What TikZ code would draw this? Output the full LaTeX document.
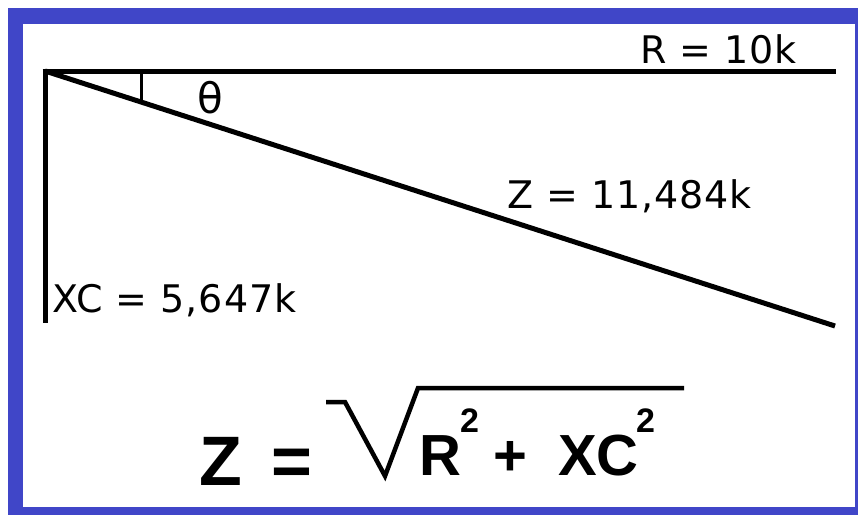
\documentclass[tikz,border=0pt]{standalone}
\usepackage{fontspec}
\newfontfamily\vfont[LetterSpace=2.5]{DejaVu Sans}
\newfontfamily\tfont{DejaVu Sans}
\newfontfamily\afont{Liberation Sans}
\definecolor{frameblue}{RGB}{64,70,200}
\begin{document}
\begin{tikzpicture}[x=1pt,y=-1pt,
  lbl/.style={inner sep=0pt,anchor=base west,font=\vfont\fontsize{38}{40}\selectfont},
  big/.style={inner sep=0pt,anchor=base west,font=\afont\bfseries\fontsize{58}{60}\selectfont},
  sup/.style={inner sep=0pt,anchor=base west,font=\afont\bfseries\fontsize{34}{36}\selectfont},
  side/.style={line width=5pt}]
\useasboundingbox (0,0) rectangle (858,515);
\fill[white] (0,0) rectangle (858,515);
\fill[frameblue] (8,8) rectangle (858,515);
\fill[white] (23,24) rectangle (855,507);
% corners of the triangle
\coordinate (A) at (45,71);
\coordinate (Rend) at (836,71);
\coordinate (Xend) at (45,323);
\coordinate (Zend) at (835,326);
\coordinate (Acorner) at (42.5,71);
\draw[side] (Acorner) -- (Rend);
\draw[side] (45,68.5) -- (Xend);
\draw[side] (A) -- (Zend);
% angle tick
\coordinate (t1) at (141.5,73);
\coordinate (t2) at (141.5,102);
\draw[line width=3.5pt] (t1) -- (t2);
\node[inner sep=0pt,anchor=base west,font=\tfont\fontsize{42}{44}\selectfont] (theta) at (197,113) {θ};
% labels
\node[lbl] (R) at (640,63) {R = 10k};
\node[lbl] (XC) at (52,312.5) {XC = 5,647k};
\node[lbl] (Z) at (507,208) {Z = 11,484k};
% formula
\node[inner sep=0pt,anchor=base west,font=\afont\bfseries\fontsize{70}{72}\selectfont] (fz) at (199,485) {Z};
\node[inner sep=0pt,anchor=base west,font=\afont\bfseries\fontsize{70}{72}\selectfont] (feq) at (271,485) {=};
\coordinate (r1) at (326,402);
\coordinate (r2) at (345,402);
\coordinate (r3) at (385,476);
\coordinate (r4) at (418,388);
\coordinate (r5) at (684,388);
\draw[line width=4.5pt,line join=miter] (r1) -- (r2) -- (r3) -- (r4) -- (r5);
\node[big] (fR) at (419,475) {R};
\node[sup] (f2a) at (460,432) {2};
\node[big] (fplus) at (493,475) {+};
\node[big] (fXC) at (558,475) {XC};
\node[sup] (f2b) at (636,432) {2};
\end{tikzpicture}
\end{document}
